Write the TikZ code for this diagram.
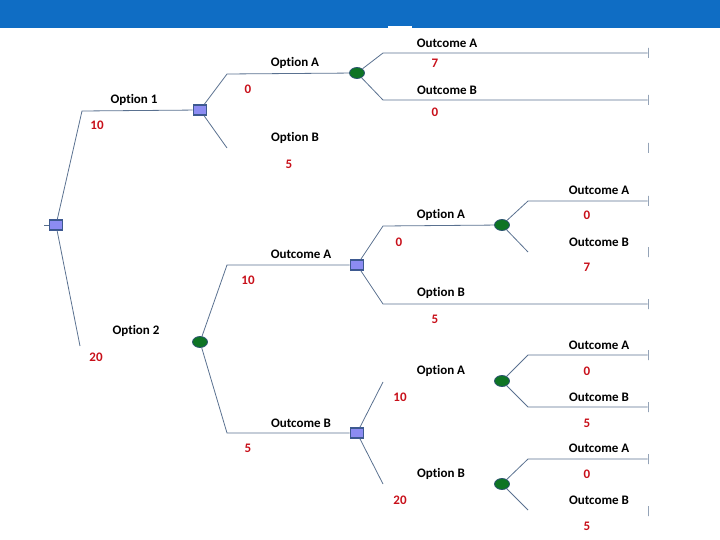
\documentclass[tikz,border=0pt]{standalone}
\usepackage{fontspec}
\setmainfont{Carlito}[Ligatures={NoCommon}]
\usepackage{xcolor}
\usepackage{tikz}
\usetikzlibrary{shapes.geometric}
\definecolor{headblue}{HTML}{0F6DC4}
\definecolor{linec}{HTML}{5A7190}
\definecolor{decfill}{HTML}{8C8CF2}
\definecolor{decdraw}{HTML}{3D5990}
\definecolor{chfill}{HTML}{0E7424}
\definecolor{chdraw}{HTML}{2C5470}
\definecolor{valred}{HTML}{C8101A}

\begin{document}
\begin{tikzpicture}[x=1pt, y=-1pt,
  decision/.style={rectangle, draw=decdraw, fill=decfill, line width=1.8pt, minimum width=13pt, minimum height=9.5pt, inner sep=0pt},
  chance/.style={ellipse, draw=chdraw, fill=chfill, line width=0.8pt, minimum width=15pt, minimum height=11pt, inner sep=0pt},
  endbar/.style={rectangle, draw=linec, line width=0.8pt, minimum width=0pt, minimum height=10pt, inner sep=0pt},
  branch/.style={draw=linec, line width=0.8pt},
  lbl/.style={font=\bfseries\fontsize{13}{15}\selectfont, text=black, inner sep=0pt},
  val/.style={font=\bfseries\fontsize{13}{15}\selectfont, text=valred, inner sep=0pt}]

  \useasboundingbox (0,0) rectangle (720,540);
  % header bar
  \fill[headblue] (0,0) rectangle (720,28);
  \fill[white] (388,26) rectangle (412,29);

  % decision and chance nodes
  \node[decision] (root) at (56,225) {};
  \node[decision] (d1) at (200,110) {};
  \node[chance] (c1) at (357,73) {};
  \node[chance] (c0) at (200,342) {};
  \node[decision] (d2) at (357,265) {};
  \node[decision] (d3) at (357,433) {};
  \node[chance] (c2) at (502,225) {};
  \node[chance] (c3) at (502,381) {};
  \node[chance] (c4) at (502,484) {};

  % elbows and loose ends
  \coordinate (rootin) at (44,225);
  \coordinate (o1) at (82,111);
  \coordinate (o2) at (80,346);
  \coordinate (d1a) at (227,74);
  \coordinate (d1b) at (227,148);
  \coordinate (c1a) at (383,53);
  \coordinate (c1b) at (383,100);
  \coordinate (c0a) at (227,265);
  \coordinate (c0b) at (227,433);
  \coordinate (d2a) at (383,226);
  \coordinate (d2b) at (383,304);
  \coordinate (c2a) at (528,201);
  \coordinate (c2b) at (528,252);
  \coordinate (d3a) at (383,382);
  \coordinate (d3b) at (383,484);
  \coordinate (c3a) at (528,355);
  \coordinate (c3b) at (528,407);
  \coordinate (c4a) at (528,459);
  \coordinate (c4b) at (528,510);

  % terminal bars
  \node[endbar] (t1) at (648,53) {};
  \node[endbar] (t2) at (648,100) {};
  \node[endbar] (t3) at (648,148) {};
  \node[endbar] (t4) at (648,201) {};
  \node[endbar] (t5) at (648,252) {};
  \node[endbar] (t6) at (648,304) {};
  \node[endbar] (t7) at (648,355) {};
  \node[endbar] (t8) at (648,407) {};
  \node[endbar] (t9) at (648,459) {};
  \node[endbar] (t10) at (648,511) {};

  % branches
  \draw[branch] (rootin) -- (root);
  \draw[branch] (root) -- (o1) -- (d1);
  \draw[branch] (root) -- (o2);
  \draw[branch] (d1) -- (d1a) -- (c1);
  \draw[branch] (d1) -- (d1b);
  \draw[branch] (c1) -- (c1a) -- (t1);
  \draw[branch] (c1) -- (c1b) -- (t2);
  \draw[branch] (c0) -- (c0a) -- (d2);
  \draw[branch] (c0) -- (c0b) -- (d3);
  \draw[branch] (d2) -- (d2a) -- (c2);
  \draw[branch] (d2) -- (d2b) -- (t6);
  \draw[branch] (c2) -- (c2a) -- (t4);
  \draw[branch] (c2) -- (c2b);
  \draw[branch] (d3) -- (d3a);
  \draw[branch] (d3) -- (d3b);
  \draw[branch] (c3) -- (c3a) -- (t7);
  \draw[branch] (c3) -- (c3b) -- (t8);
  \draw[branch] (c4) -- (c4a) -- (t9);
  \draw[branch] (c4) -- (c4b);

  % labels
  \node[lbl] (l1) at (134,100) {Option 1};
  \node[val] (v1) at (97,125) {10};
  \node[lbl] (l2) at (136,331) {Option 2};
  \node[val] (v2) at (96,357) {20};
  \node[lbl] (l3) at (295,63) {Option A};
  \node[val] (v3) at (248,89) {0};
  \node[lbl] (l4) at (295,138) {Option B};
  \node[val] (v4) at (289,164) {5};
  \node[lbl] (l5) at (447,43) {Outcome A};
  \node[val] (v5) at (435,63) {7};
  \node[lbl] (l6) at (447,90) {Outcome B};
  \node[val] (v6) at (435,112) {0};
  \node[lbl] (l7) at (301,254) {Outcome A};
  \node[val] (v7) at (248,280) {10};
  \node[lbl] (l8) at (301,423) {Outcome B};
  \node[val] (v8) at (248,448) {5};
  \node[lbl] (l9) at (441,215) {Option A};
  \node[val] (v9) at (399,242) {0};
  \node[lbl] (l10) at (441,293) {Option B};
  \node[val] (v10) at (435,319) {5};
  \node[lbl] (l11) at (599,190) {Outcome A};
  \node[val] (v11) at (587,215) {0};
  \node[lbl] (l12) at (599,242) {Outcome B};
  \node[val] (v12) at (587,267) {7};
  \node[lbl] (l13) at (441,371) {Option A};
  \node[val] (v13) at (400,397) {10};
  \node[lbl] (l14) at (441,474) {Option B};
  \node[val] (v14) at (400,500) {20};
  \node[lbl] (l15) at (599,345) {Outcome A};
  \node[val] (v15) at (587,371) {0};
  \node[lbl] (l16) at (599,397) {Outcome B};
  \node[val] (v16) at (587,423) {5};
  \node[lbl] (l17) at (599,448) {Outcome A};
  \node[val] (v17) at (587,474) {0};
  \node[lbl] (l18) at (599,500) {Outcome B};
  \node[val] (v18) at (587,526) {5};
\end{tikzpicture}
\end{document}
